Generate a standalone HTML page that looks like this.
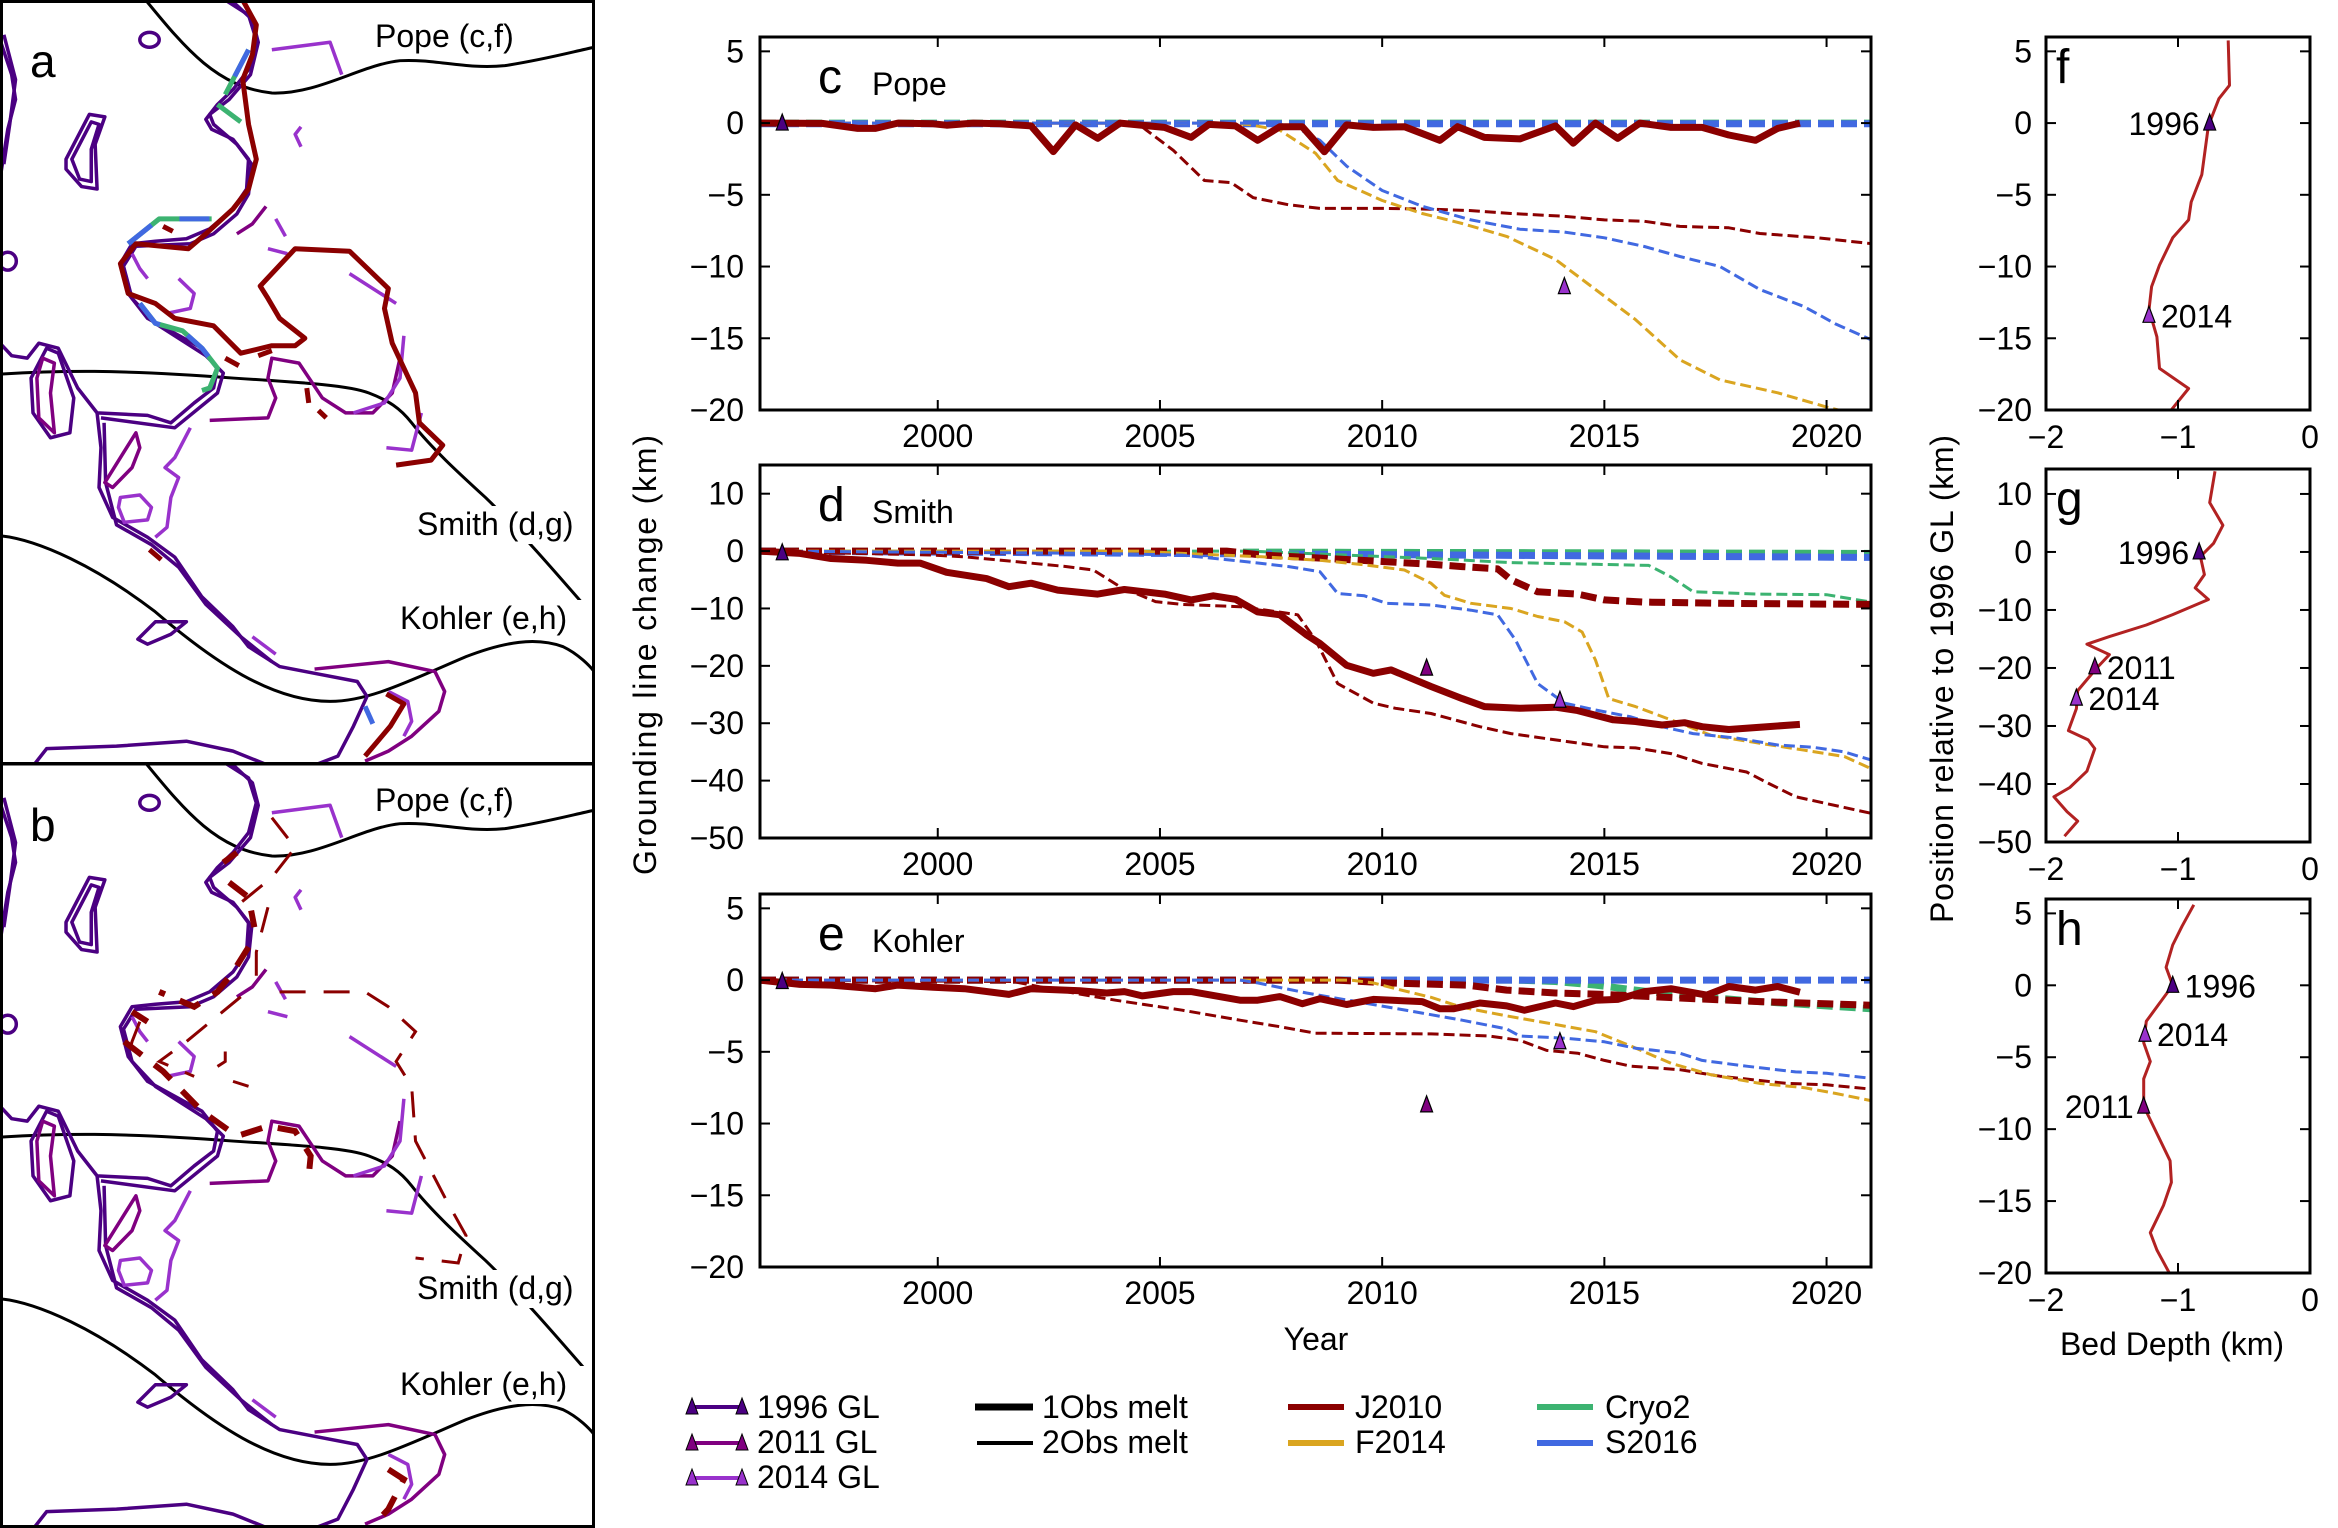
<!DOCTYPE html>
<html><head><meta charset="utf-8">
<style>
html,body{margin:0;padding:0;background:#fff;}
svg{display:block;font-family:"Liberation Sans",sans-serif;}
</style></head>
<body>
<svg id="fig" width="2338" height="1528" viewBox="0 0 2338 1528" xmlns="http://www.w3.org/2000/svg">
<defs>
<clipPath id="clipA"><rect x="0" y="0" width="594" height="764"/></clipPath>
<clipPath id="clipB"><rect x="0" y="764" width="594" height="764"/></clipPath>
<g id="mapbase">
 <g fill="none" stroke="#000" stroke-width="3">
  <path vector-effect="non-scaling-stroke" d="M375,0 C480,100 560,175 700,187 C820,190 930,130 1030,122 C1120,118 1200,140 1300,132 C1400,120 1470,105 1530,95"/>
  <path vector-effect="non-scaling-stroke" d="M0,752 C150,745 300,742 600,760 C800,770 900,775 950,790 C1000,805 1030,820 1060,850 C1110,900 1180,950 1250,1000 C1330,1060 1430,1150 1530,1240"/>
  <path vector-effect="non-scaling-stroke" d="M0,1077 C100,1085 250,1140 400,1230 C550,1330 700,1410 850,1410 C950,1410 1050,1370 1200,1320 C1300,1290 1380,1280 1450,1300 C1490,1315 1520,1340 1530,1350"/>
 </g>
 <g fill="none" stroke="#4B0082" stroke-width="3.5" stroke-linejoin="round">
  <path vector-effect="non-scaling-stroke" d="M580,0 L640,30 L660,80 L640,140 L600,180 L560,210 L530,240 L545,260 L600,280 L640,320 L635,380 L600,420 L540,460 L480,480 L400,485 L340,490 L310,530 L330,590 L380,640 L450,670 L520,700 L560,740 L550,780 L500,810 L440,850 L380,835 L250,830 L200,780 L150,700 L100,690 L70,720 L30,715 L0,690"/>
  <path vector-effect="non-scaling-stroke" d="M595,0 L650,40 L665,85 L645,150 L590,200 L540,230 L550,250 L610,290 L648,330 L640,390 L610,430 L550,470 L490,490 L350,495 L318,535 L340,600 L400,650 L530,715 L575,750 L560,790 L450,860 L260,840"/>
  <path vector-effect="non-scaling-stroke" d="M0,80 L30,150 L40,200 L20,260 L0,360"/>
  <path vector-effect="non-scaling-stroke" d="M10,70 L40,160 L25,250 L10,330"/>
  <path vector-effect="non-scaling-stroke" d="M170,320 L230,230 L270,235 L245,290 L250,380 L210,375 L170,340 Z"/>
  <path vector-effect="non-scaling-stroke" d="M185,320 L235,245 L255,250 L235,300 L235,365 L205,360 Z"/>
  <ellipse vector-effect="non-scaling-stroke" cx="385" cy="80" rx="25" ry="15"/>
  <ellipse vector-effect="non-scaling-stroke" cx="20" cy="525" rx="22" ry="18"/>
  <path vector-effect="non-scaling-stroke" d="M80,760 L120,700 L150,710 L190,800 L180,870 L130,880 L85,830 Z"/>
  <path vector-effect="non-scaling-stroke" d="M250,830 L260,900 L255,980 L290,1040 L380,1080 L450,1120 L520,1200 L600,1260 L640,1300 L720,1340 L820,1355 L920,1370 L945,1400 L910,1460 L870,1520 L820,1535"/>
  <path vector-effect="non-scaling-stroke" d="M268,850 L272,970 L300,1055 L390,1095 L460,1140 L530,1215 L620,1280 L700,1330"/>
  <path vector-effect="non-scaling-stroke" d="M90,1535 L120,1505 L300,1500 L480,1490 L600,1510 L680,1535"/>
  <path vector-effect="non-scaling-stroke" d="M355,1285 L400,1250 L480,1250 L440,1275 L380,1295 Z"/>
 </g>
 <g fill="none" stroke="#800080" stroke-width="3.5" stroke-linejoin="round">
  <path vector-effect="non-scaling-stroke" d="M810,1345 L1000,1330 L1120,1350 L1145,1390 L1130,1430 L1060,1480 L1000,1510 L940,1530"/>
  <path vector-effect="non-scaling-stroke" d="M540,845 L690,840 L710,800 L690,760 L700,720 L770,730 L830,800 L890,830 L960,830 L1010,790 L1030,720"/>
  <path vector-effect="non-scaling-stroke" d="M270,970 L350,870 L360,900 L340,940 L290,980 Z"/>
  <path vector-effect="non-scaling-stroke" d="M610,470 L650,450 L685,415"/>
  <path vector-effect="non-scaling-stroke" d="M95,760 L110,720 L140,730 L130,790 L140,870 L100,840 Z"/>
 </g>
 <g fill="none" stroke="#9932CC" stroke-width="3.5" stroke-linejoin="round">
  <path vector-effect="non-scaling-stroke" d="M700,100 L850,85 L880,150"/>
  <path vector-effect="non-scaling-stroke" d="M775,255 L760,270 L775,295"/>
  <path vector-effect="non-scaling-stroke" d="M710,440 L735,475"/>
  <path vector-effect="non-scaling-stroke" d="M690,500 L740,510"/>
  <path vector-effect="non-scaling-stroke" d="M900,550 L1020,610"/>
  <path vector-effect="non-scaling-stroke" d="M1040,675 L1030,760 L990,810 L910,830"/>
  <path vector-effect="non-scaling-stroke" d="M995,900 L1060,905 L1085,830"/>
  <path vector-effect="non-scaling-stroke" d="M490,860 L450,920 L425,940 L460,960 L440,1000 L430,1060 L400,1080"/>
  <path vector-effect="non-scaling-stroke" d="M650,1280 L710,1315"/>
  <path vector-effect="non-scaling-stroke" d="M310,1000 L360,995 L390,1020 L380,1045 L320,1050 L305,1020 Z"/>
  <path vector-effect="non-scaling-stroke" d="M1000,1390 L1050,1410 L1060,1450 L1040,1480"/>
  <path vector-effect="non-scaling-stroke" d="M340,510 L360,540 L380,560"/>
  <path vector-effect="non-scaling-stroke" d="M460,560 L500,590 L490,620 L430,630"/>
 </g>
</g>
</defs>

<!-- Panel a -->
<g clip-path="url(#clipA)">
 <svg x="0" y="0" width="600" height="780" viewBox="0 0 1545 1568" preserveAspectRatio="none" overflow="hidden">
  <use href="#mapbase"/>
  <g fill="none" stroke-linejoin="round">
   <path vector-effect="non-scaling-stroke" stroke="#3CB371" stroke-width="5" d="M640,100 L580,190 M560,210 L620,245 M330,490 L410,440 L545,440 M360,610 L400,650 L470,665 L520,700 L560,740 L540,780 L520,785"/>
   <path vector-effect="non-scaling-stroke" stroke="#4169E1" stroke-width="5" stroke-dasharray="30,30" d="M640,100 L580,190 M330,490 L410,440 L545,440 M360,610 L400,650 L470,665 L520,700 L560,740"/>
   <path vector-effect="non-scaling-stroke" stroke="#4169E1" stroke-width="5" d="M940,1420 L960,1455"/>
   <path vector-effect="non-scaling-stroke" stroke="#8B0000" stroke-width="5" d="M625,0 L660,50 L650,110 L625,160 L640,250 L660,320 L640,380 L600,420 L530,470 L485,500 L350,490 L310,530 L330,590 L400,610 L450,640 L550,655 L620,710 L700,695 L760,695 L785,680 L720,640 L690,600 L670,575 L760,500 L900,505 L1000,580 L990,620 L1010,690 L1070,790 L1080,850 L1140,895 L1110,925 L1020,935"/>
   <path vector-effect="non-scaling-stroke" stroke="#8B0000" stroke-width="5" d="M580,720 L615,735 M665,715 L700,705 M790,780 L795,810 M820,825 L840,840 M385,1105 L415,1125 M995,1395 L1040,1415 L1005,1460 L940,1520 M420,455 L445,465"/>
  </g>
 </svg>
</g>
<text x="30" y="77" font-size="46">a</text>
<rect x="372" y="14" width="162" height="38" fill="#fff"/>
<text x="375" y="47" font-size="32">Pope (c,f)</text>
<rect x="414" y="506" width="180" height="38" fill="#fff"/>
<text x="417" y="535" font-size="32">Smith (d,g)</text>
<rect x="397" y="600" width="196" height="38" fill="#fff"/>
<text x="400" y="629" font-size="32">Kohler (e,h)</text>

<!-- Panel b -->
<g clip-path="url(#clipB)">
 <svg x="0" y="763" width="600" height="780" viewBox="0 0 1545 1568" preserveAspectRatio="none" overflow="hidden">
  <use href="#mapbase"/>
  <g fill="none" stroke="#8B0000">
   <path vector-effect="non-scaling-stroke" stroke-width="6" stroke-dasharray="22,16" d="M575,200 L610,180 M590,240 L640,270 L655,330 M640,370 L600,420 L560,460 L500,490 L410,460 M340,500 L380,520 M320,560 L420,620 L520,700 L610,750 L690,730 L760,740 L800,790 L795,830 M1000,1420 L1040,1440 L1000,1500 L940,1550"/>
   <path vector-effect="non-scaling-stroke" stroke-width="3" stroke-dasharray="26,18" d="M700,110 L760,170 L700,230 L590,300 M690,290 L660,380 L660,440 M620,470 L480,560 L410,600 L500,630 M720,460 L940,460 L1000,490 L1070,540 L1020,600 L1060,650 L1070,760 L1110,820 L1150,880 L1200,950 L1180,1005 L1070,995 M600,640 L640,650 M580,580 L580,600 L560,610 M360,520 L340,560 L330,590"/>
  </g>
 </svg>
</g>
<text x="30" y="841" font-size="46">b</text>
<rect x="372" y="778" width="162" height="38" fill="#fff"/>
<text x="375" y="811" font-size="32">Pope (c,f)</text>
<rect x="414" y="1270" width="180" height="38" fill="#fff"/>
<text x="417" y="1299" font-size="32">Smith (d,g)</text>
<rect x="397" y="1366" width="196" height="38" fill="#fff"/>
<text x="400" y="1395" font-size="32">Kohler (e,h)</text>

<rect x="1.5" y="1.5" width="592" height="762" fill="none" stroke="#000" stroke-width="3"/>
<rect x="1.5" y="764" width="592" height="762.5" fill="none" stroke="#000" stroke-width="3"/>

<g id="charts"></g>

<!-- axis titles -->
<text transform="translate(656,655) rotate(-90)" text-anchor="middle" font-size="32" textLength="440">Grounding line change (km)</text>
<text x="1316" y="1350" text-anchor="middle" font-size="32">Year</text>
<text transform="translate(1953,679) rotate(-90)" text-anchor="middle" font-size="32" textLength="488">Position relative to 1996 GL (km)</text>
<text x="2172" y="1355" text-anchor="middle" font-size="32">Bed Depth (km)</text>

<!-- legend -->
<g font-size="32">
 <g>
  <line x1="692" y1="1407" x2="742" y2="1407" stroke="#4B0082" stroke-width="4"/>
  <path d="M692,1398 L686,1414 L698,1414 Z M742,1398 L736,1414 L748,1414 Z" fill="#4B0082" stroke="#000" stroke-width="1"/>
  <text x="757" y="1418">1996 GL</text></g>
 <g>
  <line x1="692" y1="1443" x2="742" y2="1443" stroke="#800080" stroke-width="4"/>
  <path d="M692,1434 L686,1450 L698,1450 Z M742,1434 L736,1450 L748,1450 Z" fill="#800080" stroke="#000" stroke-width="1"/>
  <text x="757" y="1453">2011 GL</text></g>
 <g>
  <line x1="692" y1="1478" x2="742" y2="1478" stroke="#9932CC" stroke-width="4"/>
  <path d="M692,1469 L686,1485 L698,1485 Z M742,1469 L736,1485 L748,1485 Z" fill="#9932CC" stroke="#000" stroke-width="1"/>
  <text x="757" y="1488">2014 GL</text></g>
 <g>
  <line x1="975" y1="1407" x2="1033" y2="1407" stroke="#000" stroke-width="7"/>
  <text x="1042" y="1418">1Obs melt</text></g>
 <g>
  <line x1="977" y1="1443" x2="1033" y2="1443" stroke="#000" stroke-width="4"/>
  <text x="1042" y="1453">2Obs melt</text></g>
 <g>
  <line x1="1288" y1="1407" x2="1344" y2="1407" stroke="#8B0000" stroke-width="6"/>
  <text x="1355" y="1418">J2010</text></g>
 <g>
  <line x1="1288" y1="1443" x2="1344" y2="1443" stroke="#DAA520" stroke-width="6"/>
  <text x="1355" y="1453">F2014</text></g>
 <g>
  <line x1="1537" y1="1407" x2="1593" y2="1407" stroke="#3CB371" stroke-width="6"/>
  <text x="1605" y="1418">Cryo2</text></g>
 <g>
  <line x1="1537" y1="1443" x2="1593" y2="1443" stroke="#4169E1" stroke-width="6"/>
  <text x="1605" y="1453">S2016</text></g>
</g>
</svg>

<script>
// ---------- data ----------
const yearTicks = [2000, 2005, 2010, 2015, 2020];
const popeYTicks = [5, 0, -5, -10, -15, -20];
const smithYTicks = [10, 0, -10, -20, -30, -40, -50];
const kohlerYTicks = [5, 0, -5, -10, -15, -20];
const depthTicks = [-2, -1, 0];

// Pope (c)
const popeJ2010ObsYears = [1996.0,1997.4,1998.2,1998.6,1999.1,1999.9,2000.2,2000.8,2001.4,2002.1,2002.6,2003.1,2003.6,2004.1,2005.1,2005.7,2006.1,2006.7,2007.2,2007.7,2008.2,2008.7,2009.2,2009.8,2010.5,2011.3,2011.7,2012.3,2013.1,2013.9,2014.3,2014.8,2015.3,2015.8,2016.5,2017.2,2017.8,2018.4,2018.9,2019.4];
const popeJ2010ObsKm = [0,-0.02,-0.37,-0.37,0,-0.05,-0.15,0,-0.05,-0.2,-1.99,-0.13,-1.06,0,-0.3,-1.0,-0.09,-0.2,-1.2,-0.25,-0.25,-2.0,-0.13,-0.3,-0.25,-1.2,-0.25,-1.0,-1.1,-0.2,-1.4,0,-1.06,0,-0.3,-0.3,-0.83,-1.2,-0.37,0];
const popeJ2010DashYears = [1996,2004.5,2004.7,2005.3,2005.6,2006.0,2006.6,2007.1,2007.9,2008.6,2010.1,2011.1,2012.0,2012.9,2014.1,2015.0,2015.9,2016.7,2017.8,2018.5,2019.8,2021.0];
const popeJ2010DashKm = [0,0,-0.5,-1.9,-2.8,-4.0,-4.15,-5.2,-5.7,-5.95,-5.95,-6.0,-6.1,-6.3,-6.5,-6.75,-6.85,-7.2,-7.3,-7.7,-8.0,-8.4];
const popeF2014Years = [1996,2006.5,2007.0,2007.7,2008.5,2009.0,2010.0,2010.9,2011.8,2012.8,2013.9,2014.8,2015.7,2016.7,2017.6,2018.9,2020.0,2020.4,2021.0];
const popeF2014Km = [0,0,-0.1,-0.5,-2.1,-4.0,-5.4,-6.3,-7.0,-7.9,-9.5,-11.6,-13.7,-16.5,-17.9,-18.8,-19.8,-20.1,-20.8];
const popeS2016Years = [1996,2007.6,2008.1,2008.6,2009.2,2010.0,2010.9,2012.0,2013.1,2014.1,2015.0,2015.9,2016.7,2017.6,2018.5,2019.5,2020.2,2021.0];
const popeS2016Km = [0,0,-0.37,-1.2,-3.0,-4.7,-5.8,-6.75,-7.4,-7.6,-8.0,-8.6,-9.3,-10.0,-11.6,-12.8,-14.0,-15.1];
const popeFlatYears = [1996, 2021];
const popeCryoThickKm = [0, 0];
const popeS2016ThickKm = [-0.05, -0.05];
const popeGLYears = [1996.5, 2014.1];
const popeGLKm = [0, -11.4];

// Smith (d)
const smithJ2010ObsYears = [1996.0,1996.9,1997.6,1998.4,1999.1,1999.6,2000.2,2001.1,2001.6,2002.1,2002.7,2003.6,2004.2,2005.1,2005.7,2006.2,2006.7,2007.2,2007.7,2008.3,2008.6,2009.2,2009.8,2010.2,2011.1,2011.8,2012.3,2013.1,2013.9,2014.4,2015.2,2015.7,2016.3,2016.8,2017.2,2017.8,2018.5,2019.4];
const smithJ2010ObsKm = [0,-0.4,-1.3,-1.6,-2.1,-2.1,-3.7,-4.8,-6.2,-5.6,-6.8,-7.5,-6.7,-7.5,-8.5,-7.8,-8.4,-10.6,-11.1,-14.6,-16.1,-19.9,-21.3,-20.7,-23.6,-25.7,-27.1,-27.4,-27.2,-27.8,-29.4,-29.7,-30.3,-29.9,-30.6,-31.1,-30.7,-30.2];
const smithJ2010DashYears = [1996,1999.9,2000.6,2001.7,2002.9,2003.5,2004.1,2004.9,2005.5,2006.8,2007.3,2008.1,2008.5,2009.0,2009.8,2010.3,2011.1,2012.2,2012.9,2013.9,2015.0,2015.7,2016.5,2017.2,2018.2,2018.7,2019.3,2020.0,2021.0];
const smithJ2010DashKm = [0,-0.7,-1.0,-1.8,-2.7,-3.3,-6.2,-8.8,-9.3,-9.7,-10.2,-11.1,-15.5,-23.1,-26.5,-27.4,-28.3,-30.6,-31.8,-32.9,-34.1,-34.3,-35.3,-37.0,-38.5,-40.5,-42.8,-44.0,-45.7];
const smithJ2010ThickYears = [1996,2006.5,2007.3,2008.8,2010.1,2011.1,2011.8,2012.6,2012.9,2013.5,2014.4,2015.0,2015.9,2017.6,2021.0];
const smithJ2010ThickKm = [0,0,-0.7,-1.3,-1.85,-2.3,-2.7,-3.1,-5.0,-7.1,-7.5,-8.5,-8.9,-9.1,-9.3];
const smithF2014Years = [1996,2004.5,2005.5,2007.3,2008.6,2009.6,2010.5,2011.1,2011.4,2012.0,2012.9,2013.5,2014.1,2014.5,2014.8,2015.1,2015.7,2016.7,2017.4,2018.5,2019.5,2020.4,2021.0];
const smithF2014Km = [0,0,-0.4,-1.0,-1.6,-2.4,-3.3,-5.6,-7.7,-9.1,-10.0,-11.4,-12.3,-14.1,-19.0,-25.7,-27.1,-30.0,-32.1,-33.5,-34.7,-35.8,-37.9];
const smithS2016Years = [1996,2003.6,2005.5,2007.0,2007.9,2008.6,2009.0,2009.6,2010.1,2011.1,2012.0,2012.6,2013.0,2013.5,2014.1,2014.8,2015.6,2016.3,2017.0,2018.0,2018.9,2019.7,2020.4,2021.0];
const smithS2016Km = [0,-0.4,-0.7,-1.9,-2.7,-3.6,-7.4,-7.8,-9.1,-9.4,-10.3,-11.1,-15.5,-23.1,-26.5,-27.7,-28.9,-30.6,-31.8,-32.6,-33.8,-34.2,-35.0,-36.4];
const smithCryoYears = [1996,2007,2009.2,2011.1,2012.9,2014.8,2016.0,2016.5,2017.0,2018.5,2020.0,2021.0];
const smithCryoKm = [0,0,-0.7,-1.3,-2.0,-2.3,-2.5,-4.5,-7.1,-7.5,-7.6,-8.9];
const smithFlatYears = [1996, 2021];
const smithCryoThickKm = [0, -0.4];
const smithS2016ThickKm = [0, -1.1];
const smithGLYears = [1996.5, 2011.0, 2014.0];
const smithGLKm = [-0.3, -20.4, -26.0];

// Kohler (e)
const kohlerJ2010ObsYears = [1996.0,1996.9,1997.6,1998.6,1999.1,1999.9,2000.6,2001.6,2002.1,2003.2,2003.8,2004.2,2004.6,2005.3,2005.7,2006.8,2007.2,2007.7,2008.2,2008.6,2009.2,2009.8,2010.9,2011.3,2011.6,2012.2,2012.8,2013.2,2013.9,2014.3,2014.8,2015.3,2015.9,2016.5,2017.3,2017.8,2018.4,2018.9,2019.4];
const kohlerJ2010ObsKm = [0,-0.3,-0.35,-0.6,-0.35,-0.5,-0.6,-1.0,-0.6,-0.75,-0.9,-0.8,-1.1,-0.8,-0.8,-1.4,-1.4,-1.15,-1.65,-1.3,-1.7,-1.35,-1.5,-2.0,-2.0,-1.6,-1.8,-2.1,-1.6,-1.85,-1.4,-1.35,-0.8,-0.6,-1.05,-0.45,-0.7,-0.45,-0.85];
const kohlerJ2010DashYears = [1996,2001.7,2002.5,2004.0,2005.5,2006.8,2007.7,2008.5,2011.1,2012.4,2013.1,2013.7,2014.4,2015.0,2015.6,2016.7,2017.6,2018.5,2019.1,2020.0,2021.0];
const kohlerJ2010DashKm = [0,-0.1,-0.6,-1.4,-2.1,-2.8,-3.25,-3.7,-3.75,-3.9,-4.2,-4.9,-5.1,-5.6,-6.0,-6.25,-6.7,-7.0,-7.2,-7.3,-7.6];
const kohlerJ2010ThickYears = [1996,2009,2010.1,2011.9,2012.8,2013.9,2015.0,2016.7,2018.5,2021.0];
const kohlerJ2010ThickKm = [0,0,-0.2,-0.35,-0.7,-0.9,-1.0,-1.25,-1.5,-1.75];
const kohlerF2014Years = [1996,2009.3,2009.8,2010.3,2011.1,2011.8,2012.8,2013.9,2014.8,2015.6,2016.5,2017.4,2018.5,2019.5,2020.2,2021.0];
const kohlerF2014Km = [0,0,-0.2,-0.6,-1.2,-1.9,-2.5,-3.1,-3.6,-4.6,-5.8,-6.6,-7.2,-7.5,-7.9,-8.4];
const kohlerS2016Years = [1996,2006.8,2007.2,2008.3,2009.6,2010.9,2011.8,2012.8,2013.1,2014.1,2015.0,2015.7,2016.7,2017.2,2018.2,2019.3,2020.0,2021.0];
const kohlerS2016Km = [0,0,-0.2,-0.9,-1.6,-2.3,-2.8,-3.4,-3.9,-4.05,-4.3,-4.75,-5.1,-5.6,-6.0,-6.4,-6.5,-6.85];
const kohlerCryoYears = [1996,2013.0,2013.9,2014.8,2015.7,2016.7,2018.5,2021.0];
const kohlerCryoKm = [0,0,-0.1,-0.35,-0.7,-1.05,-1.5,-2.0];
const kohlerFlatYears = [1996, 2021];
const kohlerS2016ThickKm = [0, 0];
const kohlerGLYears = [1996.5, 2011.0, 2014.0];
const kohlerGLKm = [-0.1, -8.7, -4.3];

// Bed profiles (f,g,h): depth km, position km
const popeBedDepth = [-0.62,-0.61,-0.69,-0.77,-0.82,-0.90,-0.92,-1.04,-1.14,-1.20,-1.22,-1.16,-1.14,-0.92,-1.06];
const popeBedPos = [5.76,2.63,1.70,-0.18,-3.6,-5.5,-6.75,-8.0,-9.9,-11.4,-13.0,-14.9,-17.1,-18.5,-20.1];
const popeBedMarkDepth = [-0.76, -1.22];
const popeBedMarkPos = [0, -13.4];
const smithBedDepth = [-0.72,-0.76,-0.66,-0.73,-0.83,-0.80,-0.87,-0.77,-1.04,-1.24,-1.52,-1.69,-1.52,-1.62,-1.76,-1.77,-1.83,-1.68,-1.63,-1.69,-1.82,-1.94,-1.84,-1.76,-1.86];
const smithBedPos = [13.9,8.5,4.6,1.5,-0.8,-3.9,-6.2,-8.2,-10.8,-12.6,-14.6,-15.9,-17.7,-20.1,-23.9,-27,-30.8,-32.4,-33.9,-37.8,-40.6,-42.2,-44.8,-46.4,-49.0];
const smithBedMarkDepth = [-0.84, -1.63, -1.77];
const smithBedMarkPos = [0, -19.8, -25.2];
const kohlerBedDepth = [-0.88,-0.97,-1.04,-1.09,-1.04,-1.14,-1.24,-1.26,-1.21,-1.26,-1.26,-1.16,-1.06,-1.05,-1.11,-1.21,-1.16,-1.06];
const kohlerBedPos = [5.6,4.1,2.8,1.25,0,-1.25,-2.5,-4.0,-5.3,-6.5,-8.4,-10.3,-12.2,-13.7,-15.3,-17.2,-18.4,-20.1];
const kohlerBedMarkDepth = [-1.04, -1.25, -1.26];
const kohlerBedMarkPos = [0, -3.4, -8.4];

// ---------- drawing ----------
const NS = 'http://www.w3.org/2000/svg';
const root = document.getElementById('charts');
const COL = {j:'#8B0000', f:'#DAA520', c:'#3CB371', s:'#4169E1', g96:'#4B0082', g11:'#800080', g14:'#9932CC', bed:'#B22222'};
function mk(tag, attrs, parent){
  const e = document.createElementNS(NS, tag);
  for (const k in attrs) e.setAttribute(k, attrs[k]);
  (parent||root).appendChild(e);
  return e;
}
function fmt(v){ return v < 0 ? '\u2212' + Math.abs(v) : String(v); }
function lin(d0,d1,r0,r1){ return v => r0 + (v-d0)*(r1-r0)/(d1-d0); }

function axesFrame(p, name){
  const g = mk('g', {});
  
  
  const cp = mk('clipPath', {id:'clip-'+name}, g);
  mk('rect', {x:p.x0, y:p.y0, width:p.x1-p.x0, height:p.y1-p.y0}, cp);
  const plot = mk('g', {'clip-path':'url(#clip-'+name+')'}, g);
  
  
  return {g, plot};
}
function ticksAndFrame(g, p, sx, sy, xt, yt, xLabelY, yLabelX){
  const tg = mk('g', {stroke:'#000', 'stroke-width':2}, g);
  
  
  xt.forEach(t => {
    const x = sx(t);
    mk('line', {x1:x, y1:p.y0, x2:x, y2:p.y0+10}, tg);
    mk('line', {x1:x, y1:p.y1, x2:x, y2:p.y1-10}, tg);
    const tx = mk('text', {x:x, y:xLabelY, 'text-anchor':'middle', 'font-size':32, fill:'#000'}, g);
    
    
    tx.textContent = fmt(t);
  });
  yt.forEach(t => {
    const y = sy(t);
    mk('line', {x1:p.x0, y1:y, x2:p.x0+10, y2:y}, tg);
    mk('line', {x1:p.x1, y1:y, x2:p.x1-10, y2:y}, tg);
    const tx = mk('text', {x:yLabelX, y:y+11, 'text-anchor':'end', 'font-size':32, fill:'#000'}, g);
    
    
    tx.textContent = fmt(t);
  });
  const fr = mk('rect', {x:p.x0, y:p.y0, width:p.x1-p.x0, height:p.y1-p.y0, fill:'none', stroke:'#000', 'stroke-width':3}, g);
  
  
}
function series(parent, xs, ys, sx, sy, color, width, dash, name){
  let d = '';
  for (let i=0;i<xs.length;i++) d += (i?'L':'M') + sx(xs[i]).toFixed(1) + ',' + sy(ys[i]).toFixed(1);
  const a = {d:d, fill:'none', stroke:color, 'stroke-width':width, 'stroke-linejoin':'round'};
  if (dash) a['stroke-dasharray'] = dash;
  const e = mk('path', a, parent);
  
  
  return e;
}
function tri(parent, x, y, color, name){
  const e = mk('path', {d:`M${x},${y-9}L${x-6},${y+7}L${x+6},${y+7}Z`, fill:color, stroke:'#000', 'stroke-width':1.2}, parent);
  
  
}
function label(g, x, y, size, txt, name, anchor){
  const t = mk('text', {x:x, y:y, 'font-size':size, fill:'#000', 'text-anchor':anchor||'start'}, g);
  
  
  t.textContent = txt;
}

const THIN = 3, THICK = 7, OBS = 7;
const THIN_DASH = '11,5', THICK_DASH = '16,7';

function timePanel(cfg){
  const p = cfg.p;
  const sx = lin(1996, 2021, p.x0, p.x1);
  const sy = lin(cfg.ymin, cfg.ymax, p.y1, p.y0);
  const {g, plot} = axesFrame(p, cfg.name);
  cfg.draw(plot, sx, sy);
  ticksAndFrame(g, p, sx, sy, yearTicks, cfg.yt, p.y1+37, p.x0-16);
  label(g, p.x0+58, p.y0+56, 48, cfg.letter, 'panel-label-'+cfg.letter);
  label(g, p.x0+112, p.y0+58, 32, cfg.title, 'panel-title-'+cfg.title.toLowerCase());
}

timePanel({name:'pope-chart', letter:'c', title:'Pope', p:{x0:760,x1:1871,y0:37,y1:410}, ymin:-20, ymax:6, yt:popeYTicks,
  draw:(pl,sx,sy)=>{
    series(pl, popeFlatYears, popeCryoThickKm, sx, sy, COL.c, THICK, THICK_DASH, 'pope-cryo2-1obs');
    series(pl, popeFlatYears, popeS2016ThickKm, sx, sy, COL.s, THICK, THICK_DASH, 'pope-s2016-1obs');
    series(pl, popeJ2010DashYears, popeJ2010DashKm, sx, sy, COL.j, THIN, THIN_DASH, 'pope-j2010-2obs');
    series(pl, popeF2014Years, popeF2014Km, sx, sy, COL.f, THIN, THIN_DASH, 'pope-f2014-2obs');
    series(pl, popeS2016Years, popeS2016Km, sx, sy, COL.s, THIN, THIN_DASH, 'pope-s2016-2obs');
    series(pl, popeJ2010ObsYears, popeJ2010ObsKm, sx, sy, COL.j, OBS, null, 'pope-j2010-1obs');
    tri(pl, sx(popeGLYears[0]), sy(popeGLKm[0]), COL.g96, 'pope-gl-1996');
    tri(pl, sx(popeGLYears[1]), sy(popeGLKm[1]), COL.g14, 'pope-gl-2014');
  }});

timePanel({name:'smith-chart', letter:'d', title:'Smith', p:{x0:760,x1:1871,y0:465,y1:838}, ymin:-50, ymax:15, yt:smithYTicks,
  draw:(pl,sx,sy)=>{
    series(pl, smithFlatYears, smithCryoThickKm, sx, sy, COL.c, THICK, THICK_DASH, 'smith-cryo2-1obs');
    series(pl, smithFlatYears, smithS2016ThickKm, sx, sy, COL.s, THICK, THICK_DASH, 'smith-s2016-1obs');
    series(pl, smithCryoYears, smithCryoKm, sx, sy, COL.c, THIN, THIN_DASH, 'smith-cryo2-2obs');
    series(pl, smithJ2010ThickYears, smithJ2010ThickKm, sx, sy, COL.j, THICK, THICK_DASH, 'smith-j2010-thick-dashed');
    series(pl, smithJ2010DashYears, smithJ2010DashKm, sx, sy, COL.j, THIN, THIN_DASH, 'smith-j2010-2obs');
    series(pl, smithF2014Years, smithF2014Km, sx, sy, COL.f, THIN, THIN_DASH, 'smith-f2014-2obs');
    series(pl, smithS2016Years, smithS2016Km, sx, sy, COL.s, THIN, THIN_DASH, 'smith-s2016-2obs');
    series(pl, smithJ2010ObsYears, smithJ2010ObsKm, sx, sy, COL.j, OBS, null, 'smith-j2010-1obs');
    tri(pl, sx(smithGLYears[0]), sy(smithGLKm[0]), COL.g96, 'smith-gl-1996');
    tri(pl, sx(smithGLYears[1]), sy(smithGLKm[1]), COL.g11, 'smith-gl-2011');
    tri(pl, sx(smithGLYears[2]), sy(smithGLKm[2]), COL.g14, 'smith-gl-2014');
  }});

timePanel({name:'kohler-chart', letter:'e', title:'Kohler', p:{x0:760,x1:1871,y0:894,y1:1267}, ymin:-20, ymax:6, yt:kohlerYTicks,
  draw:(pl,sx,sy)=>{
    series(pl, kohlerCryoYears, kohlerCryoKm, sx, sy, COL.c, THICK, THICK_DASH, 'kohler-cryo2-1obs');
    series(pl, kohlerFlatYears, kohlerS2016ThickKm, sx, sy, COL.s, THICK, THICK_DASH, 'kohler-s2016-1obs');
    series(pl, kohlerJ2010ThickYears, kohlerJ2010ThickKm, sx, sy, COL.j, THICK, THICK_DASH, 'kohler-j2010-thick-dashed');
    series(pl, kohlerJ2010DashYears, kohlerJ2010DashKm, sx, sy, COL.j, THIN, THIN_DASH, 'kohler-j2010-2obs');
    series(pl, kohlerF2014Years, kohlerF2014Km, sx, sy, COL.f, THIN, THIN_DASH, 'kohler-f2014-2obs');
    series(pl, kohlerS2016Years, kohlerS2016Km, sx, sy, COL.s, THIN, THIN_DASH, 'kohler-s2016-2obs');
    series(pl, kohlerJ2010ObsYears, kohlerJ2010ObsKm, sx, sy, COL.j, OBS, null, 'kohler-j2010-1obs');
    tri(pl, sx(kohlerGLYears[0]), sy(kohlerGLKm[0]), COL.g96, 'kohler-gl-1996');
    tri(pl, sx(kohlerGLYears[1]), sy(kohlerGLKm[1]), COL.g11, 'kohler-gl-2011');
    tri(pl, sx(kohlerGLYears[2]), sy(kohlerGLKm[2]), COL.g14, 'kohler-gl-2014');
  }});

function bedPanel(cfg){
  const p = cfg.p;
  const sx = lin(-2, 0, p.x0, p.x1);
  const sy = lin(cfg.ymin, cfg.ymax, p.y1, p.y0);
  const {g, plot} = axesFrame(p, cfg.name);
  series(plot, cfg.depth, cfg.pos, sx, sy, COL.bed, 3, null, cfg.name+'-bed-profile');
  ticksAndFrame(g, p, sx, sy, depthTicks, cfg.yt, p.y1+38, p.x0-14);
  label(g, p.x0+10, p.y0+46, 48, cfg.letter, 'panel-label-'+cfg.letter);
  cfg.marks.forEach((m,i) => {
    const x = sx(cfg.mDepth[i]), y = sy(cfg.mPos[i]);
    tri(g, x, y, m.c, cfg.name+'-marker-'+m.t);
    if (m.side === 'l') label(g, x-10, y+12, 32, m.t, cfg.name+'-annotation-'+m.t, 'end');
    else label(g, x+12, y+12, 32, m.t, cfg.name+'-annotation-'+m.t);
  });
}
bedPanel({name:'pope-bed', letter:'f', p:{x0:2046,x1:2310,y0:37,y1:410}, ymin:-20, ymax:6, yt:popeYTicks,
  depth:popeBedDepth, pos:popeBedPos, mDepth:popeBedMarkDepth, mPos:popeBedMarkPos,
  marks:[{t:'1996',c:COL.g96,side:'l'},{t:'2014',c:COL.g14,side:'r'}]});
bedPanel({name:'smith-bed', letter:'g', p:{x0:2046,x1:2310,y0:469,y1:842}, ymin:-50, ymax:14.3, yt:smithYTicks,
  depth:smithBedDepth, pos:smithBedPos, mDepth:smithBedMarkDepth, mPos:smithBedMarkPos,
  marks:[{t:'1996',c:COL.g96,side:'l'},{t:'2011',c:COL.g11,side:'r'},{t:'2014',c:COL.g14,side:'r'}]});
bedPanel({name:'kohler-bed', letter:'h', p:{x0:2046,x1:2310,y0:899,y1:1273}, ymin:-20, ymax:6, yt:kohlerYTicks,
  depth:kohlerBedDepth, pos:kohlerBedPos, mDepth:kohlerBedMarkDepth, mPos:kohlerBedMarkPos,
  marks:[{t:'1996',c:COL.g96,side:'r'},{t:'2014',c:COL.g14,side:'r'},{t:'2011',c:COL.g11,side:'l'}]});
</script>
</body></html>
